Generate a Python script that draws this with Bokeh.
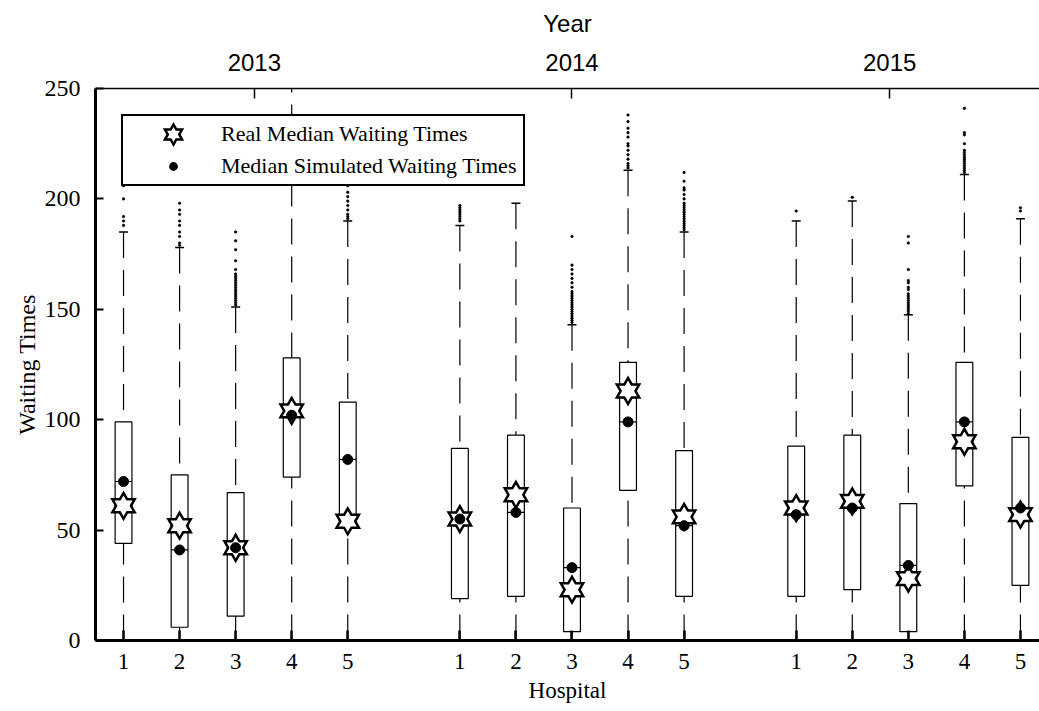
from bokeh.plotting import figure
from bokeh.models import Range1d, FixedTicker, LinearAxis, Legend, LegendItem, ColumnDataSource
from bokeh.embed import file_html
from bokeh.resources import INLINE

# ---------------- data ----------------
years = ["2013", "2014", "2015"]
hospitals = ["1", "2", "3", "4", "5"]

# 15 boxes: 2013 H1..H5, 2014 H1..H5, 2015 H1..H5
q1 = [44, 6, 11, 74, 54, 19, 20, 4, 68, 20, 20, 23, 4, 70, 25]
q3 = [99, 75, 67, 128, 108, 87, 93, 60, 126, 86, 88, 93, 62, 126, 92]
whisker_low = [0, 0, 0, 0, 0, 0, 0, 0, 0, 0, 0, 0, 0, 0, 0]
whisker_high = [185, 178, 151, 260, 190, 188, 198, 143, 213, 185, 190, 199, 147.5, 211, 191]
sim_median = [72, 41, 42, 102, 82, 55, 58, 33, 99, 52, 57, 60, 34, 99, 60]
real_median = [61, 52, 42, 104, 54, 55, 66, 23, 113, 56, 60, 63, 28, 90, 57]
outliers = [
    [188, 190, 192, 200, 206, 212, 220],
    [179, 180, 183, 185, 188, 190, 193, 195, 198],
    [152, 153, 154, 155, 156, 157, 158, 159, 160, 161, 162, 163, 164, 165, 166, 168, 172, 177, 181, 185],
    [],
    [191, 192, 193, 195, 197, 199, 201, 203, 206, 212],
    [190, 191, 192, 193, 194, 195, 196, 197],
    [],
    [144, 145, 146, 147, 148, 149, 150, 151, 152, 153, 154, 155, 156, 157, 158, 160, 162, 164, 166, 168, 170, 183],
    [214, 215, 216, 218, 220, 222, 224, 225, 228, 230, 232, 235, 238],
    [186, 187, 188, 189, 190, 191, 192, 193, 194, 195, 196, 197, 198, 200, 202, 204, 205, 208, 212],
    [194.5],
    [200.7],
    [148, 149, 150, 151, 152, 153, 154, 155, 156, 157, 159, 160, 162, 163, 168, 180, 183],
    [212, 213, 214, 215, 216, 217, 218, 219, 220, 221, 222, 225, 229, 230, 241],
    [194.5, 196],
]

# ---------------- layout ----------------
n_h = len(hospitals)
pos = [g * (n_h + 1) + i + 1 for g in range(len(years)) for i in range(n_h)]
n_slots = len(years) * (n_h + 1) - 1
x_start = 0.5
x_end = 17.34
top_ticks = [round(x_start + (k + 0.5) * (n_slots / len(years)), 4) for k in range(len(years))]

serif = "Liberation Serif"
sans = "Liberation Sans"

p = figure(width=1039, height=711, x_range=Range1d(x_start, x_end), y_range=Range1d(0, 250),
           output_backend="svg", toolbar_location=None,
           min_border_left=95, min_border_right=0, min_border_top=88, min_border_bottom=71,
           x_axis_label="Hospital", y_axis_label="Waiting Times")
p.grid.visible = False
p.outline_line_color = None
p.background_fill_color = "white"

src = ColumnDataSource(dict(x=pos, q1=q1, q3=q3, lo=whisker_low, hi=whisker_high,
                            sim=sim_median, real=real_median))

# whiskers (dashed)
p.segment(x0="x", y0="hi", x1="x", y1="q3", source=src, line_color="black", line_width=1.2, line_dash="26 12")
p.segment(x0="x", y0="lo", x1="x", y1="q1", source=src, line_color="black", line_width=1.2, line_dash="26 12")
# caps
p.scatter(x="x", y="hi", source=src, marker="dash", size=9, line_color="black", line_width=1.5)
p.scatter(x="x", y="lo", source=src, marker="dash", size=9, line_color="black", line_width=1.5)
# boxes
p.vbar(x="x", bottom="q1", top="q3", width=0.3, source=src, fill_color="white", line_color="black", line_width=1.2)
# median line
p.scatter(x="x", y="sim", source=src, marker="dash", size=17, line_color="black", line_width=1.2)

# outliers
ox, oy = [], []
for xp, vals in zip(pos, outliers):
    for v in vals:
        ox.append(xp)
        oy.append(v)
p.scatter(ox, oy, marker="circle", size=2.6, fill_color="black", line_color="black", line_width=0.5)

# real medians: hexagram (two triangles, outline then white fill on top)
STAR = 18
STAR_LW = 5
p.scatter(x="x", y="real", source=src, marker="triangle", size=STAR, fill_color="white", line_color="black", line_width=STAR_LW, line_join="miter")
p.scatter(x="x", y="real", source=src, marker="inverted_triangle", size=STAR, fill_color="white", line_color="black", line_width=STAR_LW, line_join="miter")
p.scatter(x="x", y="real", source=src, marker="triangle", size=STAR, fill_color="white", line_color=None)
p.scatter(x="x", y="real", source=src, marker="inverted_triangle", size=STAR, fill_color="white", line_color=None)

# simulated medians
p.scatter(x="x", y="sim", source=src, marker="circle", size=10, fill_color="black", line_color="black")

# legend-only renderers (a single NaN point each, so nothing is drawn in the plot)
nan = float("nan")
dummy = ColumnDataSource(dict(x=[nan], y=[nan]))
lt1 = p.scatter(x="x", y="y", source=dummy, marker="triangle", fill_color="white", line_color="black", line_width=5, line_join="miter")
lt2 = p.scatter(x="x", y="y", source=dummy, marker="inverted_triangle", fill_color="white", line_color="black", line_width=5, line_join="miter")
lt3 = p.scatter(x="x", y="y", source=dummy, marker="triangle", fill_color="white", line_color=None)
lt4 = p.scatter(x="x", y="y", source=dummy, marker="inverted_triangle", fill_color="white", line_color=None)
lc = p.scatter(x="x", y="y", source=dummy, marker="circle", fill_color="black", line_color="white", line_width=4)

legend = Legend(items=[LegendItem(label="Real Median Waiting Times", renderers=[lt1, lt2, lt3, lt4]),
                       LegendItem(label="Median Simulated Waiting Times", renderers=[lc])],
                location="top_left", margin=26, padding=2, glyph_width=96, glyph_height=32,
                spacing=0, label_standoff=0, label_width=300, label_text_font=serif,
                label_text_font_size="22px", label_text_color="black",
                border_line_color="black", border_line_width=2, border_line_alpha=1.0,
                background_fill_color="white", background_fill_alpha=1.0)
p.add_layout(legend)

# axes
xa = p.xaxis[0]
xa.ticker = FixedTicker(ticks=pos)
xa.major_label_overrides = {xp: hospitals[i % n_h] for i, xp in enumerate(pos)}
xa.major_tick_in = 10
xa.major_tick_out = 0
xa.major_tick_line_width = 2.5
xa.minor_tick_line_color = None
xa.axis_line_width = 3
xa.major_label_standoff = 13
xa.major_label_text_font = serif
xa.major_label_text_font_size = "23px"
xa.major_label_text_color = "black"
xa.axis_label_text_font = serif
xa.axis_label_text_font_size = "23px"
xa.axis_label_text_font_style = "normal"
xa.axis_label_text_color = "black"
xa.axis_label_standoff = 6

ya = p.yaxis[0]
ya.ticker = FixedTicker(ticks=[0, 50, 100, 150, 200, 250])
ya.major_tick_in = 8
ya.major_tick_out = 0
ya.major_tick_line_width = 2
ya.minor_tick_line_color = None
ya.axis_line_width = 3
ya.major_label_standoff = 15
ya.major_label_text_font = serif
ya.major_label_text_font_size = "24px"
ya.major_label_text_color = "black"
ya.axis_label_text_font = serif
ya.axis_label_text_font_size = "24px"
ya.axis_label_text_font_style = "normal"
ya.axis_label_text_color = "black"
ya.axis_label_standoff = 2

top = LinearAxis(ticker=FixedTicker(ticks=top_ticks),
                 major_label_overrides={t: years[k] for k, t in enumerate(top_ticks)},
                 axis_label="Year")
top.major_tick_in = 10
top.major_tick_out = 0
top.major_tick_line_width = 1.5
top.minor_tick_line_color = None
top.axis_line_width = 1.5
top.major_label_standoff = 18
top.major_label_text_font = sans
top.major_label_text_font_size = "24px"
top.major_label_text_color = "black"
top.axis_label_text_font = sans
top.axis_label_text_font_size = "24px"
top.axis_label_text_font_style = "normal"
top.axis_label_text_color = "black"
top.axis_label_standoff = 14
p.add_layout(top, "above")

open("out.html", "w").write(file_html(p, INLINE))
